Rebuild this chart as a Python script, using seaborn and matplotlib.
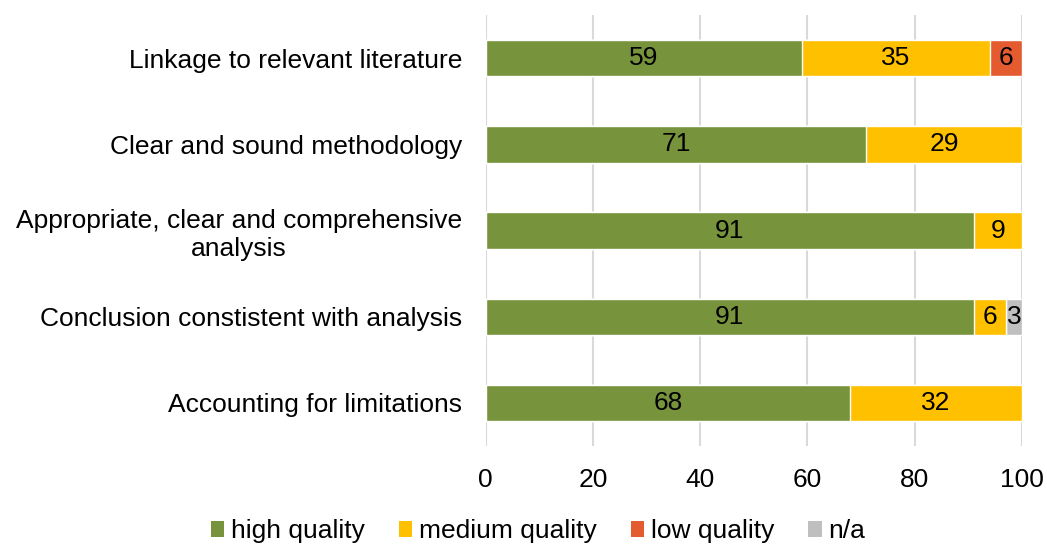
import matplotlib
matplotlib.use("Agg")
import matplotlib.pyplot as plt
import seaborn as sns
import pandas as pd
import numpy as np
from matplotlib.patches import Patch

categories = ["Linkage to relevant literature",
              "Clear and sound methodology",
              "Appropriate, clear and comprehensive\nanalysis",
              "Conclusion constistent with analysis",
              "Accounting for limitations"]
series_names = ["high quality", "medium quality", "low quality", "n/a"]
high = [59, 71, 91, 91, 68]
medium = [35, 29, 9, 6, 32]
low = [6, 0, 0, 0, 0]
na = [0, 0, 0, 3, 0]
colors = ["#77933C", "#FFC000", "#E35B2F", "#BFBFBF"]
xticks = [0, 20, 40, 60, 80, 100]

sns.set_theme(style="white")
plt.rcParams['font.family'] = ['Liberation Sans', 'DejaVu Sans']
plt.rcParams['text.color'] = 'black'
plt.rcParams['xtick.color'] = 'black'
plt.rcParams['ytick.color'] = 'black'

FS = 19

fig = plt.figure(figsize=(10.47, 5.45), dpi=100)
ax = fig.add_axes([0.464, 0.182, 0.512, 0.790])

series = [high, medium, low, na]
cum = np.cumsum(np.array(series, dtype=float), axis=0)
for i in range(len(series) - 1, -1, -1):
    df = pd.DataFrame({"cat": categories, "val": cum[i]})
    sns.barplot(data=df, x="val", y="cat", orient="h", color=colors[i],
                saturation=1, width=0.42, ax=ax, zorder=3)

for i, s in enumerate(series):
    for j, v in enumerate(s):
        if v > 0:
            start = cum[i][j] - v
            ax.text(start + v / 2, j, f"{v:g}", ha="center", va="center",
                    fontsize=FS, color="black", zorder=4)

ax.set_xlim(0, 100)
ax.set_xticks(xticks)
ax.set_xticklabels([str(t) for t in xticks], fontsize=FS)
ax.tick_params(axis="y", labelsize=FS, length=0, pad=17, labelcolor="black")
ax.tick_params(axis="x", length=0, pad=16, labelcolor="black")
ax.set_xlabel("")
ax.set_ylabel("")
ax.xaxis.grid(True, color="#D9D9D9", linewidth=1.5, zorder=0)
ax.yaxis.grid(False)
for sp in ax.spines.values():
    sp.set_visible(False)
for lbl in ax.get_yticklabels():
    lbl.set_multialignment("center")

handles = [Patch(facecolor=c, edgecolor="none") for c in colors]
fig.legend(handles, series_names, loc="center", bbox_to_anchor=(0.514, 0.025),
           ncol=4, frameon=False, fontsize=FS, handlelength=0.5, handleheight=0.5,
           handletextpad=0.25, columnspacing=1.3)

fig.savefig("out.png", dpi=100)
